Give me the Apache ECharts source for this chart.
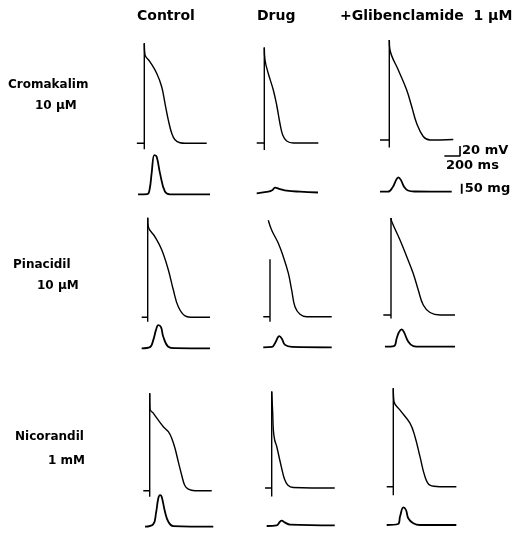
<!DOCTYPE html>
<html><head><meta charset="utf-8">
<script src="https://cdn.jsdelivr.net/npm/echarts@6/dist/echarts.min.js"></script>
<style>html,body{margin:0;padding:0;background:#fff}#c{width:521px;height:533px}</style>
</head><body><div id="c"></div>
<script>
// ---------- labels ----------
const columnLabels = ['Control', 'Drug', '+Glibenclamide  1 \u00b5M'];
const drugLabels = ['Cromakalim', 'Pinacidil', 'Nicorandil'];
const doseLabels = ['10 \u00b5M', '10 \u00b5M', '1 mM'];
// scale bars
const scaleMs = 200, scaleMv = 20, scaleMg = 50;
const scaleText = ['20 mV', '200 ms', '50 mg'];

// ---------- data: [time ms, membrane potential mV] / [time ms, tension mg] ----------
// Cromakalim 10 uM
const cromCtrlUp = [[-95,-85],[0,-85],[0,-97],[0,115]];
const cromCtrlAP = [[0,115],[9,92],[73,78],[158,55],[222,28],[264,-5],[306,-38],[350,-65],[392,-78],[456,-84],[520,-85],[797,-85]];
const cromCtrlF  = [[-80,0],[40,1],[70,30],[94,106],[128,196],[158,188],[200,106],[264,13],[328,0],[839,0]];
const cromDrugUp = [[-97,-85],[0,-85],[0,-99],[0,106]];
const cromDrugAP = [[0,106],[9,81],[51,54],[115,21],[158,-9],[200,-46],[235,-69],[286,-81],[370,-85],[690,-85]];
const cromDrugF  = [[-97,-3],[51,5],[100,12],[137,25],[200,18],[286,10],[456,5],[686,1]];
const cromGlibUp = [[-119,-85],[0,-85],[0,-100],[0,115]];
const cromGlibAP = [[0,115],[9,95],[115,55],[222,15],[286,-18],[350,-52],[434,-78],[520,-85],[817,-84]];
const cromGlibF  = [[-119,0],[-17,0],[47,25],[86,58],[115,72],[149,58],[188,25],[239,6],[327,1],[797,0]];
// Pinacidil 10 uM
const pinaCtrlUp = [[-77,-85],[0,-85],[0,-94],[0,114]];
const pinaCtrlAP = [[0,114],[8,96],[93,76],[179,50],[263,10],[327,-30],[391,-64],[477,-82],[582,-85],[796,-85]];
const pinaCtrlF  = [[-77,0],[29,6],[72,42],[106,92],[135,116],[170,106],[199,58],[263,8],[349,1],[796,0]];
const pinaDrugUp = [[-86,-85],[0,-85],[0,-95],[0,30]];
const pinaDrugAP = [[-22,108],[22,88],[106,62],[170,35],[234,2],[277,-32],[319,-65],[383,-80],[469,-85],[788,-85]];
const pinaDrugF  = [[-86,0],[26,2],[64,20],[119,56],[153,42],[192,12],[281,2],[788,0]];
const pinaGlibUp = [[-98,-85],[0,-85],[0,-92],[0,109]];
const pinaGlibAP = [[0,109],[9,102],[115,65],[200,32],[284,-2],[348,-35],[412,-65],[498,-80],[626,-85],[817,-85]];
const pinaGlibF  = [[-77,0],[38,3],[73,42],[102,73],[137,87],[166,73],[221,25],[285,3],[371,0],[817,0]];
// Nicorandil 1 mM
const nicoCtrlUp = [[-82,-85],[0,-85],[0,-97],[0,110]];
const nicoCtrlAP = [[0,110],[4,78],[46,70],[110,56],[174,43],[238,33],[281,20],[323,0],[365,-27],[409,-54],[447,-74],[493,-82],[578,-85],[792,-85]];
const nicoCtrlF  = [[-60,0],[46,13],[80,67],[110,142],[132,158],[153,150],[195,75],[238,25],[301,3],[812,0]];
const nicoDrugUp = [[-86,-85],[0,-85],[0,-102],[0,108]];
const nicoDrugAP = [[0,108],[13,64],[21,31],[38,11],[64,-2],[93,-22],[128,-46],[161,-66],[204,-79],[276,-84],[805,-85]];
const nicoDrugF  = [[-64,0],[64,3],[106,22],[128,27],[170,17],[234,7],[805,3]];
const nicoGlibUp = [[-84,-85],[0,-85],[0,-102],[0,112]];
const nicoGlibAP = [[0,112],[9,85],[86,68],[213,42],[277,15],[341,-25],[405,-65],[468,-82],[596,-85],[805,-85]];
const nicoGlibF  = [[-84,0],[60,5],[86,42],[128,88],[162,75],[191,34],[255,9],[341,0],[805,0]];

const panels = [
  [cromCtrlUp, cromCtrlAP, cromCtrlF], [cromDrugUp, cromDrugAP, cromDrugF], [cromGlibUp, cromGlibAP, cromGlibF],
  [pinaCtrlUp, pinaCtrlAP, pinaCtrlF], [pinaDrugUp, pinaDrugAP, pinaDrugF], [pinaGlibUp, pinaGlibAP, pinaGlibF],
  [nicoCtrlUp, nicoCtrlAP, nicoCtrlF], [nicoDrugUp, nicoDrugAP, nicoDrugF], [nicoGlibUp, nicoGlibAP, nicoGlibF]
];

// ---------- layout (pixels): upstroke x, AP rest y, tension baseline y ----------
const anchors = [
  [144.3,143.3,194.3],[264.3,143,192.7],[389.3,140,191.7],
  [147.7,317.3,348.3],[270,316.7,347.3],[391,315,346.7],
  [149.7,490.7,526.7],[271.7,488,526],[393.3,486.7,525]
];
const MS_PX = 12.77, MV_PX = 2, MG_PX = 5;
const REST = -85;
const T0 = -200, T1 = 1000, V0 = -150, V1 = 130, F0 = -20, F1 = 230;
const INK = '#000';
const FONT = 'DejaVu Sans';

const grid = [], xAxis = [], yAxis = [], series = [];
anchors.forEach((a, i) => {
  const [u, b, c] = a;
  const left = u + T0 / MS_PX, width = (T1 - T0) / MS_PX;
  grid.push({left, width, top: b - (V1 - REST) / MV_PX, height: (V1 - V0) / MV_PX});
  grid.push({left, width, top: c - F1 / MG_PX, height: (F1 - F0) / MG_PX});
  const gAP = 2 * i, gF = 2 * i + 1;
  xAxis.push({type:'value', gridIndex:gAP, min:T0, max:T1, show:false});
  xAxis.push({type:'value', gridIndex:gF, min:T0, max:T1, show:false});
  yAxis.push({type:'value', gridIndex:gAP, min:V0, max:V1, show:false});
  yAxis.push({type:'value', gridIndex:gF, min:F0, max:F1, show:false});
  const [up, ap, f] = panels[i];
  const base = {type:'line', symbol:'none', silent:true, clip:false, animation:false};
  series.push(Object.assign({}, base, {xAxisIndex:gAP, yAxisIndex:gAP, data:up, lineStyle:{color:INK, width:1.4}}));
  series.push(Object.assign({}, base, {xAxisIndex:gAP, yAxisIndex:gAP, data:ap, smooth:0.4, lineStyle:{color:INK, width:1.4}}));
  series.push(Object.assign({}, base, {xAxisIndex:gF, yAxisIndex:gF, data:f, smooth:0.4, lineStyle:{color:INK, width:1.8}}));
});

// scale bars in the Cromakalim / Glibenclamide panel
const barT = 903, barV = -117, barF = 925, barF0 = -10;
series.push({type:'line', symbol:'none', silent:true, clip:false, animation:false, xAxisIndex:4, yAxisIndex:4,
  data:[[barT - scaleMs, barV],[barT, barV],[barT, barV + scaleMv]], lineStyle:{color:INK, width:1.6}});
series.push({type:'line', symbol:'none', silent:true, clip:false, animation:false, xAxisIndex:5, yAxisIndex:5,
  data:[[barF, barF0],[barF, barF0 + scaleMg]], lineStyle:{color:INK, width:1.8}});
const lblStyle = {show:true, position:'right', formatter:'{b}', color:'#000', opacity:1, fontFamily:FONT, fontWeight:'bold', fontSize:13};
series.push({type:'scatter', silent:true, clip:false, animation:false, xAxisIndex:4, yAxisIndex:4, symbolSize:0,
  itemStyle:{color:'#000', opacity:1},
  label:Object.assign({}, lblStyle, {distance:2}),
  data:[{name:scaleText[0], value:[barT, barV + scaleMv / 2]}, {name:scaleText[1], value:[barT - scaleMs - 5, barV - 20]}]});
series.push({type:'scatter', silent:true, clip:false, animation:false, xAxisIndex:5, yAxisIndex:5, symbolSize:0,
  itemStyle:{color:'#000', opacity:1},
  label:Object.assign({}, lblStyle, {distance:3}),
  data:[{name:scaleText[2], value:[barF, barF0 + scaleMg / 2]}]});

// ---------- text ----------
const hdr = {color:INK, fontFamily:FONT, fontWeight:'bold', fontSize:14};
const rowS = {color:INK, fontFamily:FONT, fontWeight:'bold', fontSize:12};
const colLeft = [137, 257, 340];
const rowTop = [[79, 8], [259, 13], [431, 15]];
const doseLeft = [35, 37, 48];
const doseTop = [100, 280, 455];
const title = [];
columnLabels.forEach((t, i) => title.push({text:t, left:colLeft[i], top:9, padding:0, textStyle:hdr}));
drugLabels.forEach((t, i) => {
  title.push({text:t, left:rowTop[i][1], top:rowTop[i][0], padding:0, textStyle:rowS});
  title.push({text:doseLabels[i], left:doseLeft[i], top:doseTop[i], padding:0, textStyle:rowS});
});

const chart = echarts.init(document.getElementById('c'));
chart.setOption({backgroundColor:'#fff', animation:false, title, grid, xAxis, yAxis, series});
</script>
</body></html>
